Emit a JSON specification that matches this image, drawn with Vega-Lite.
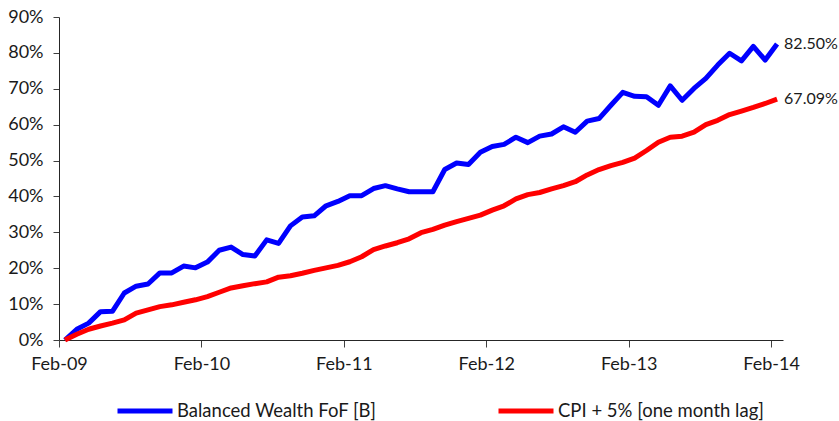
{
  "$schema": "https://vega.github.io/schema/vega-lite/v6.json",
  "autosize": "none",
  "width": 724,
  "height": 323,
  "padding": {"left": 59, "top": 17, "right": 56, "bottom": 81},
  "background": "white",
  "config": {
    "view": {"stroke": null},
    "font": "Lato",
    "axis": {"grid": false, "domainColor": "#262626", "tickColor": "#404040", "labelColor": "#1a1a1a", "labelFont": "Lato", "labelFontSize": 18, "title": null},
    "legend": {"labelFont": "Lato", "labelFontSize": 18.5, "labelColor": "#1a1a1a", "labelLimit": 400}
  },
  "data": {"values": [
    {"m": "Feb-09", "b": 0.000, "c": 0.000},
    {"m": "Mar-09", "b": 0.030, "c": 0.016},
    {"m": "Apr-09", "b": 0.047, "c": 0.030},
    {"m": "May-09", "b": 0.079, "c": 0.039},
    {"m": "Jun-09", "b": 0.080, "c": 0.047},
    {"m": "Jul-09", "b": 0.131, "c": 0.056},
    {"m": "Aug-09", "b": 0.150, "c": 0.075},
    {"m": "Sep-09", "b": 0.156, "c": 0.084},
    {"m": "Oct-09", "b": 0.187, "c": 0.093},
    {"m": "Nov-09", "b": 0.187, "c": 0.098},
    {"m": "Dec-09", "b": 0.206, "c": 0.105},
    {"m": "Jan-10", "b": 0.201, "c": 0.112},
    {"m": "Feb-10", "b": 0.217, "c": 0.121},
    {"m": "Mar-10", "b": 0.250, "c": 0.133},
    {"m": "Apr-10", "b": 0.259, "c": 0.145},
    {"m": "May-10", "b": 0.238, "c": 0.151},
    {"m": "Jun-10", "b": 0.234, "c": 0.157},
    {"m": "Jul-10", "b": 0.279, "c": 0.162},
    {"m": "Aug-10", "b": 0.269, "c": 0.175},
    {"m": "Sep-10", "b": 0.318, "c": 0.179},
    {"m": "Oct-10", "b": 0.343, "c": 0.186},
    {"m": "Nov-10", "b": 0.346, "c": 0.194},
    {"m": "Dec-10", "b": 0.374, "c": 0.201},
    {"m": "Jan-11", "b": 0.386, "c": 0.208},
    {"m": "Feb-11", "b": 0.402, "c": 0.218},
    {"m": "Mar-11", "b": 0.402, "c": 0.232},
    {"m": "Apr-11", "b": 0.422, "c": 0.252},
    {"m": "May-11", "b": 0.430, "c": 0.262},
    {"m": "Jun-11", "b": 0.421, "c": 0.271},
    {"m": "Jul-11", "b": 0.413, "c": 0.282},
    {"m": "Aug-11", "b": 0.413, "c": 0.299},
    {"m": "Sep-11", "b": 0.413, "c": 0.308},
    {"m": "Oct-11", "b": 0.475, "c": 0.320},
    {"m": "Nov-11", "b": 0.493, "c": 0.330},
    {"m": "Dec-11", "b": 0.489, "c": 0.339},
    {"m": "Jan-12", "b": 0.523, "c": 0.348},
    {"m": "Feb-12", "b": 0.539, "c": 0.362},
    {"m": "Mar-12", "b": 0.545, "c": 0.374},
    {"m": "Apr-12", "b": 0.565, "c": 0.393},
    {"m": "May-12", "b": 0.550, "c": 0.405},
    {"m": "Jun-12", "b": 0.568, "c": 0.411},
    {"m": "Jul-12", "b": 0.574, "c": 0.421},
    {"m": "Aug-12", "b": 0.594, "c": 0.430},
    {"m": "Sep-12", "b": 0.579, "c": 0.441},
    {"m": "Oct-12", "b": 0.610, "c": 0.460},
    {"m": "Nov-12", "b": 0.617, "c": 0.475},
    {"m": "Dec-12", "b": 0.654, "c": 0.486},
    {"m": "Jan-13", "b": 0.690, "c": 0.495},
    {"m": "Feb-13", "b": 0.679, "c": 0.507},
    {"m": "Mar-13", "b": 0.678, "c": 0.528},
    {"m": "Apr-13", "b": 0.654, "c": 0.551},
    {"m": "May-13", "b": 0.708, "c": 0.565},
    {"m": "Jun-13", "b": 0.668, "c": 0.568},
    {"m": "Jul-13", "b": 0.701, "c": 0.579},
    {"m": "Aug-13", "b": 0.729, "c": 0.600},
    {"m": "Sep-13", "b": 0.766, "c": 0.612},
    {"m": "Oct-13", "b": 0.799, "c": 0.628},
    {"m": "Nov-13", "b": 0.778, "c": 0.638},
    {"m": "Dec-13", "b": 0.818, "c": 0.648},
    {"m": "Jan-14", "b": 0.780, "c": 0.659},
    {"m": "Feb-14", "b": 0.825, "c": 0.6709}
  ]},
  "transform": [
    {"fold": ["b", "c"], "as": ["key", "value"]},
    {"lookup": "key", "from": {"data": {"values": [
      {"key": "b", "series": "Balanced Wealth FoF [B]"},
      {"key": "c", "series": "CPI + 5% [one month lag]"}
    ]}, "key": "key", "fields": ["series"]}}
  ],
  "encoding": {
    "x": {"field": "m", "type": "ordinal", "sort": null,
      "scale": {"type": "point", "padding": 0.5},
      "axis": {"values": ["Feb-09", "Feb-10", "Feb-11", "Feb-12", "Feb-13", "Feb-14"], "labelAngle": 0, "tickOffset": -5.93, "tickSize": 7, "labelPadding": 8, "domainWidth": 1}},
    "y": {"field": "value", "type": "quantitative",
      "scale": {"domain": [0, 0.9], "nice": false},
      "axis": {"format": ".0%", "values": [0, 0.1, 0.2, 0.3, 0.4, 0.5, 0.6, 0.7, 0.8, 0.9], "tickSize": 6, "labelPadding": 10, "domainWidth": 1}},
    "color": {"field": "series", "type": "nominal",
      "scale": {"domain": ["Balanced Wealth FoF [B]", "CPI + 5% [one month lag]"], "range": ["#0000FF", "#FF0000"]},
      "legend": {"orient": "none", "legendX": 56, "legendY": 364, "direction": "horizontal", "columns": 2, "columnPadding": 111, "symbolType": "stroke", "symbolSize": 3025, "symbolStrokeWidth": 5, "labelOffset": 2, "title": null}}
  },
  "layer": [
    {"mark": {"type": "line", "strokeWidth": 5, "strokeJoin": "round"}},
    {"transform": [{"filter": "datum.m == 'Feb-14'"}],
      "mark": {"type": "text", "align": "left", "dx": 7, "fontSize": 16, "font": "Lato", "color": "#1a1a1a"},
      "encoding": {"text": {"field": "value", "type": "quantitative", "format": ".2%"}, "color": {"value": "#1a1a1a"}}}
  ]
}
